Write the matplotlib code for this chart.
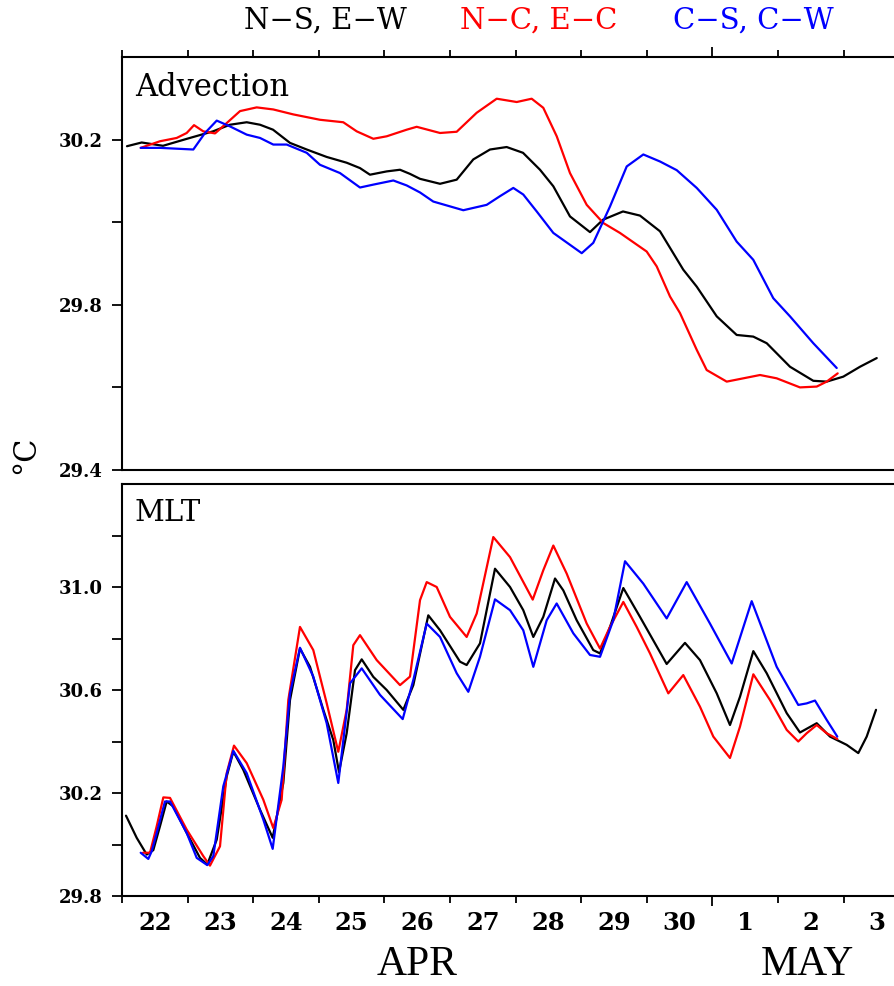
import matplotlib.pyplot as plt
import numpy as np

# time axis: days since 00Z 22 Apr
day_labels = ['22', '23', '24', '25', '26', '27', '28', '29', '30', '1', '2', '3']
month_labels = ['APR', 'MAY']
month_pos = [4.5, 10.45]

# ---- Advection panel ----
adv_ns_t = [0.076, 0.300, 0.625, 0.991, 1.387, 1.646, 1.901, 2.104, 2.302, 2.561, 2.816, 3.120,
            3.425, 3.628, 3.780, 4.035, 4.238, 4.390, 4.543, 4.848, 5.102, 5.355, 5.610, 5.864,
            6.113, 6.372, 6.575, 6.829, 7.134, 7.332, 7.637, 7.896, 8.201, 8.556, 8.761, 9.066,
            9.370, 9.623, 9.828, 10.183, 10.538, 10.742, 10.995, 11.250, 11.505]
adv_ns = [30.184, 30.193, 30.185, 30.202, 30.220, 30.236, 30.242, 30.236, 30.224, 30.192, 30.176,
          30.158, 30.144, 30.131, 30.115, 30.123, 30.127, 30.117, 30.105, 30.093, 30.103, 30.152,
          30.176, 30.182, 30.168, 30.127, 30.087, 30.014, 29.976, 30.006, 30.026, 30.016, 29.978,
          29.885, 29.844, 29.772, 29.727, 29.723, 29.707, 29.650, 29.616, 29.614, 29.626, 29.650,
          29.671]

adv_nc_t = [0.285, 0.579, 0.834, 0.986, 1.098, 1.239, 1.418, 1.596, 1.799, 2.053, 2.306, 2.611,
            3.018, 3.373, 3.578, 3.831, 4.035, 4.340, 4.492, 4.848, 5.102, 5.407, 5.712, 6.017,
            6.245, 6.422, 6.627, 6.829, 7.084, 7.337, 7.591, 7.998, 8.151, 8.354, 8.506, 8.761,
            8.913, 9.218, 9.726, 9.980, 10.335, 10.590, 10.742, 10.910]
adv_nc = [30.180, 30.196, 30.204, 30.216, 30.235, 30.220, 30.215, 30.240, 30.269, 30.278, 30.273,
          30.261, 30.248, 30.242, 30.220, 30.202, 30.208, 30.224, 30.231, 30.216, 30.219, 30.265,
          30.299, 30.291, 30.299, 30.277, 30.208, 30.119, 30.042, 29.998, 29.974, 29.929, 29.893,
          29.820, 29.780, 29.691, 29.642, 29.614, 29.630, 29.622, 29.600, 29.602, 29.614, 29.634]

adv_cs_t = [0.285, 0.579, 1.087, 1.265, 1.444, 1.646, 1.901, 2.104, 2.306, 2.511, 2.816, 3.018,
            3.323, 3.628, 3.831, 4.136, 4.340, 4.543, 4.745, 5.203, 5.559, 5.762, 5.965, 6.117,
            6.322, 6.575, 7.008, 7.184, 7.439, 7.694, 7.947, 8.201, 8.456, 8.761, 9.066, 9.370,
            9.623, 9.928, 10.183, 10.538, 10.895]
adv_cs = [30.180, 30.180, 30.176, 30.216, 30.246, 30.232, 30.212, 30.204, 30.188, 30.188, 30.168,
          30.139, 30.119, 30.084, 30.091, 30.101, 30.089, 30.072, 30.050, 30.029, 30.042, 30.063,
          30.083, 30.067, 30.026, 29.974, 29.925, 29.950, 30.038, 30.135, 30.164, 30.147, 30.126,
          30.083, 30.030, 29.953, 29.909, 29.816, 29.772, 29.707, 29.647]

# ---- MLT panel ----
mlt_ns_t = [0.061, 0.224, 0.377, 0.477, 0.579, 0.681, 0.782, 0.986, 1.189, 1.300, 1.444, 1.596,
            1.697, 1.849, 2.104, 2.297, 2.459, 2.561, 2.713, 2.866, 3.069, 3.221, 3.308, 3.425,
            3.552, 3.654, 3.831, 4.035, 4.288, 4.441, 4.669, 4.848, 5.152, 5.254, 5.457, 5.686,
            5.915, 6.117, 6.270, 6.422, 6.601, 6.727, 6.931, 7.184, 7.287, 7.439, 7.642, 7.896,
            8.303, 8.582, 8.811, 9.066, 9.268, 9.421, 9.624, 9.828, 10.133, 10.335, 10.590,
            10.793, 11.047, 11.224, 11.352, 11.494]
mlt_ns = [30.112, 30.026, 29.961, 29.978, 30.071, 30.167, 30.148, 30.045, 29.948, 29.922, 30.019,
          30.264, 30.361, 30.290, 30.135, 30.026, 30.239, 30.561, 30.761, 30.690, 30.523, 30.406,
          30.281, 30.432, 30.677, 30.719, 30.651, 30.600, 30.523, 30.619, 30.890, 30.832, 30.710,
          30.697, 30.781, 31.071, 31.000, 30.910, 30.806, 30.884, 31.033, 30.987, 30.871, 30.755,
          30.742, 30.845, 30.996, 30.884, 30.701, 30.783, 30.716, 30.587, 30.464, 30.574, 30.751,
          30.665, 30.510, 30.435, 30.471, 30.419, 30.387, 30.355, 30.419, 30.523]

mlt_nc_t = [0.320, 0.427, 0.529, 0.630, 0.732, 0.986, 1.239, 1.341, 1.494, 1.596, 1.707, 1.901,
            2.154, 2.306, 2.434, 2.535, 2.713, 2.916, 3.120, 3.297, 3.425, 3.526, 3.628, 3.883,
            4.238, 4.390, 4.543, 4.645, 4.797, 5.000, 5.254, 5.407, 5.660, 5.915, 6.261, 6.422,
            6.575, 6.779, 7.084, 7.287, 7.439, 7.642, 7.846, 8.049, 8.328, 8.556, 8.811, 9.014,
            9.268, 9.421, 9.624, 9.878, 10.133, 10.309, 10.437, 10.590, 10.742, 10.904]
mlt_nc = [29.968, 29.968, 30.071, 30.183, 30.181, 30.058, 29.955, 29.918, 29.993, 30.277, 30.384,
          30.316, 30.174, 30.064, 30.174, 30.561, 30.845, 30.755, 30.549, 30.360, 30.523, 30.774,
          30.813, 30.716, 30.619, 30.652, 30.949, 31.019, 31.000, 30.884, 30.806, 30.897, 31.194,
          31.116, 30.951, 31.065, 31.161, 31.052, 30.858, 30.761, 30.845, 30.942, 30.845, 30.742,
          30.587, 30.658, 30.535, 30.419, 30.336, 30.458, 30.661, 30.561, 30.445, 30.400, 30.432,
          30.464, 30.432, 30.410]

mlt_cs_t = [0.285, 0.401, 0.453, 0.529, 0.655, 0.732, 0.986, 1.139, 1.300, 1.392, 1.544, 1.697,
            1.901, 2.154, 2.297, 2.459, 2.561, 2.713, 2.916, 3.120, 3.297, 3.476, 3.654, 3.933,
            4.279, 4.441, 4.645, 4.848, 5.102, 5.279, 5.457, 5.686, 5.915, 6.117, 6.270, 6.474,
            6.626, 6.880, 7.134, 7.287, 7.489, 7.668, 7.947, 8.303, 8.608, 8.963, 9.294, 9.599,
            9.980, 10.309, 10.437, 10.564, 10.742, 10.904]
mlt_cs = [29.968, 29.944, 29.974, 30.045, 30.167, 30.167, 30.045, 29.948, 29.920, 29.955, 30.226,
          30.364, 30.277, 30.097, 29.983, 30.303, 30.587, 30.764, 30.652, 30.471, 30.239, 30.626,
          30.684, 30.581, 30.487, 30.639, 30.858, 30.806, 30.665, 30.593, 30.729, 30.952, 30.910,
          30.832, 30.690, 30.871, 30.936, 30.820, 30.736, 30.729, 30.871, 31.100, 31.013, 30.878,
          31.019, 30.858, 30.703, 30.945, 30.690, 30.542, 30.548, 30.559, 30.484, 30.419]

colors = ['black', 'red', 'blue']
lw = 1.6

fig = plt.figure(figsize=(8.94, 9.86), dpi=100)
ax1 = fig.add_axes([122 / 894, 1 - 470 / 986, 787.2 / 894, 413 / 986])
ax2 = fig.add_axes([122 / 894, 1 - 896 / 986, 787.2 / 894, 412 / 986])

line_kw = dict(lw=lw, solid_joinstyle='round', solid_capstyle='round')
ax1.plot(adv_ns_t, adv_ns, color=colors[0], **line_kw)
ax1.plot(adv_nc_t, adv_nc, color=colors[1], **line_kw)
ax1.plot(adv_cs_t, adv_cs, color=colors[2], **line_kw)

ax2.plot(mlt_ns_t, mlt_ns, color=colors[0], **line_kw)
ax2.plot(mlt_nc_t, mlt_nc, color=colors[1], **line_kw)
ax2.plot(mlt_cs_t, mlt_cs, color=colors[2], **line_kw)

days = np.arange(len(day_labels) + 1)
tick_font = dict(fontweight='bold', fontsize=13, family='DejaVu Serif')

for ax in (ax1, ax2):
    ax.set_xlim(0, 12)
    for s in ax.spines.values():
        s.set_linewidth(1.5)
    ax.tick_params(axis='y', which='both', direction='out', length=7, width=1.3,
                   right=False, pad=7)

ax1.set_ylim(29.4, 30.4)
ax1.set_yticks([29.4, 29.8, 30.2])
ax1.set_yticks([29.6, 30.0], minor=True)
ax1.set_yticklabels(['29.4', '29.8', '30.2'], **tick_font)

ax2.set_ylim(29.8, 31.4)
ax2.set_yticks([29.8, 30.2, 30.6, 31.0])
ax2.set_yticks([30.0, 30.4, 30.8, 31.2], minor=True)
ax2.set_yticklabels(['29.8', '30.2', '30.6', '31.0'], **tick_font)

# top panel: ticks on the top edge only
ax1.xaxis.set_ticks_position('top')
ax1.set_xticks(days)
ax1.set_xticklabels([])
ax1.tick_params(axis='x', which='major', direction='out', length=5, width=1.3)
for i, t in enumerate(ax1.xaxis.get_major_ticks()):
    if i == 9:
        t.tick2line.set_markersize(7.5)

# bottom panel: ticks on bottom, labels at noon
ax2.xaxis.set_ticks_position('bottom')
ax2.set_xticks(days)
ax2.set_xticklabels([])
ax2.tick_params(axis='x', which='major', direction='out', length=5, width=1.3)
for i, t in enumerate(ax2.xaxis.get_major_ticks()):
    if i == 9:
        t.tick1line.set_markersize(7.5)
ax2.set_xticks(days[:-1] + 0.5, minor=True)
ax2.set_xticklabels(day_labels, minor=True, fontsize=17.5, fontweight='bold',
                    family='DejaVu Serif')
ax2.tick_params(axis='x', which='minor', length=0, pad=11)

for m, x in zip(month_labels, month_pos):
    ax2.text(x, -0.1675, m, transform=ax2.get_xaxis_transform(), ha='center', va='center',
             fontsize=30, family='Liberation Serif')

ax1.text(13 / 787.2, 1 - 30 / 413, 'Advection', transform=ax1.transAxes, ha='left',
         va='center', fontsize=22, family='DejaVu Serif')
ax2.text(13 / 787.2, 1 - 29 / 412, 'MLT', transform=ax2.transAxes, ha='left',
         va='center', fontsize=21, family='DejaVu Serif')

fig.text(26 / 894, 1 - 455 / 986, '°C', rotation=90, ha='center', va='center',
         fontsize=22, family='DejaVu Serif')

legend_text = ['N−S, E−W', 'N−C, E−C', 'C−S, C−W']
legend_x = [325, 539, 753]
for txt, x, c in zip(legend_text, legend_x, colors):
    fig.text(x / 894, 1 - 21 / 986, txt, color=c, ha='center', va='center',
             fontsize=21, family='DejaVu Serif')

fig.savefig('out.png', dpi=100)
